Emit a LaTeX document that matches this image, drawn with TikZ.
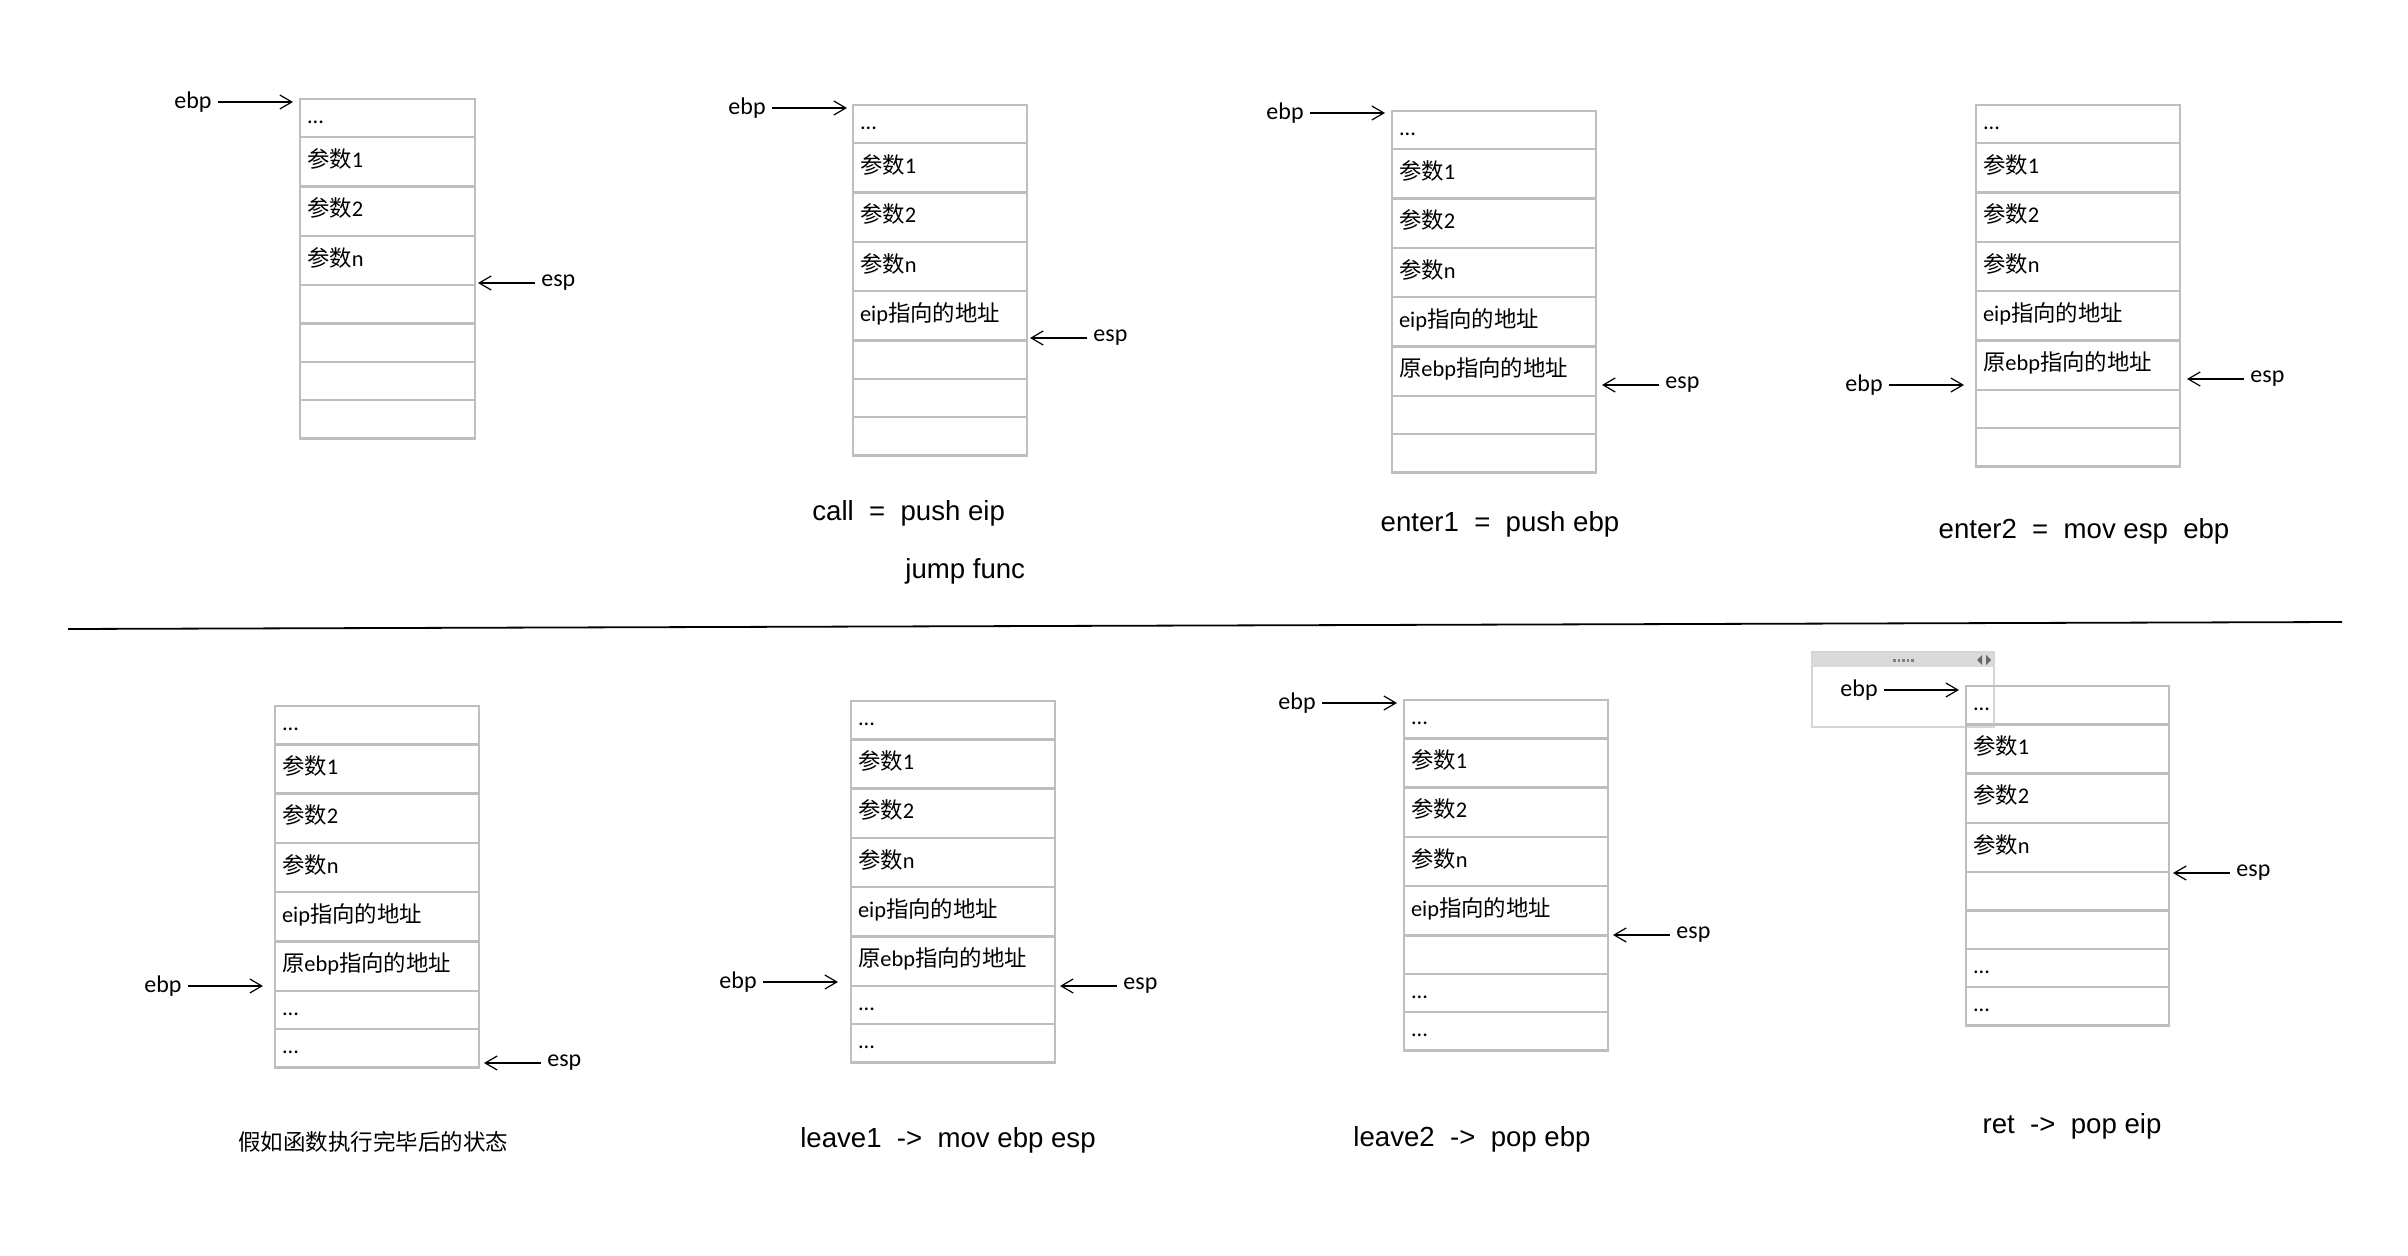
\documentclass[tikz,border=0pt]{standalone}
\usepackage{fontspec}
\setmainfont{Carlito}
\newfontfamily\capfont{Liberation Sans}
\newfontfamily\cjkfont{Noto Sans CJK SC}
\usetikzlibrary{positioning,arrows.meta}
\definecolor{cellgray}{RGB}{190,190,190}
\definecolor{bargray}{RGB}{218,218,218}
\newcommand{\zh}[1]{{\cjkfont #1}}
\newcommand{\moredots}{...}
% one stack of cells, top left corner at #2
\newcommand{\memstack}[4]{%
  \foreach \txt/\kind [count=\i, remember=\i as \j (initially 0)] in {#4}{
    \ifnum\i=1
      \node[cell=#3, \kind, anchor=north west] (#1-\i) at #2 {\txt};
    \else
      \node[cell=#3, \kind, below=0pt of #1-\j] (#1-\i) {\txt};
    \fi
  }%
}
\tikzset{
  cell/.style={draw=cellgray, line width=1.2pt, outer sep=0pt, inner xsep=3.5pt, inner ysep=0pt,
    align=left, text width=#1, text height=0.75em, text depth=0.2em, font=\fontsize{11.2}{13}\selectfont},
  tallrow/.style={minimum height=24.65pt},
  lowrow/.style={minimum height=19.15pt},
  reg/.style={inner sep=3pt, font=\fontsize{12}{14}\selectfont},
  ptr/.style={-{Straight Barb[length=6pt,width=7pt]}, line width=0.6pt},
  opcap/.style={inner sep=0pt, font=\capfont\fontsize{13.8}{16}\selectfont},
}
\begin{document}
\begin{tikzpicture}[x=0.5pt, y=-0.5pt]
\useasboundingbox (0,0) rectangle (2408,1256);

% ---- top row
\memstack{s1}{(300,99)}{80.5pt}{\moredots/lowrow, \zh{参数}1/tallrow, \zh{参数}2/tallrow, \zh{参数}n/tallrow,
  /lowrow, /lowrow, /lowrow, /lowrow}
\coordinate (b1) at (293,102);
\coordinate (e1) at (478,283);
\node[reg, left=37.5pt of b1] (ebp1) {ebp};
\node[reg, right=28.5pt of e1] (esp1) {esp};
\draw[ptr] (ebp1) -- (b1);
\draw[ptr] (esp1) -- (e1);

\memstack{s2}{(853,105)}{80pt}{\moredots/lowrow, \zh{参数}1/tallrow, \zh{参数}2/tallrow, \zh{参数}n/tallrow,
  eip\zh{指向的地址}/tallrow, /lowrow, /lowrow, /lowrow}
\coordinate (b2) at (847,108);
\coordinate (e2) at (1030,338);
\node[reg, left=37.5pt of b2] (ebp2) {ebp};
\node[reg, right=28.5pt of e2] (esp2) {esp};
\draw[ptr] (ebp2) -- (b2);
\draw[ptr] (esp2) -- (e2);
\node[opcap, anchor=west] (cap2) at (812,513) {call~~=~~push eip};
\node[opcap, anchor=west] (cap2b) at (905,571) {jump func};

\memstack{s3}{(1392,111)}{95pt}{\moredots/lowrow, \zh{参数}1/tallrow, \zh{参数}2/tallrow, \zh{参数}n/tallrow,
  eip\zh{指向的地址}/tallrow, \zh{原}ebp\zh{指向的地址}/tallrow, /lowrow, /lowrow}
\coordinate (b3) at (1385,113);
\coordinate (e3) at (1602,385);
\node[reg, left=37.5pt of b3] (ebp3) {ebp};
\node[reg, right=28.5pt of e3] (esp3) {esp};
\draw[ptr] (ebp3) -- (b3);
\draw[ptr] (esp3) -- (e3);
\node[opcap] (cap3) at (1500,524) {enter1~~=~~push ebp};

\memstack{s4}{(1976,105)}{95pt}{\moredots/lowrow, \zh{参数}1/tallrow, \zh{参数}2/tallrow, \zh{参数}n/tallrow,
  eip\zh{指向的地址}/tallrow, \zh{原}ebp\zh{指向的地址}/tallrow, /lowrow, /lowrow}
\coordinate (b4) at (1964,385);
\coordinate (e4) at (2187,379);
\node[reg, left=37.5pt of b4] (ebp4) {ebp};
\node[reg, right=28.5pt of e4] (esp4) {esp};
\draw[ptr] (ebp4) -- (b4);
\draw[ptr] (esp4) -- (e4);
\node[opcap] (cap4) at (2084,531) {enter2~~=~~mov esp~~ebp};

% ---- separator
\coordinate (sepL) at (68,629);
\coordinate (sepR) at (2342,622);
\draw[line width=0.9pt] (sepL) -- (sepR);

% ---- bottom row
\memstack{s5}{(275,706)}{95pt}{\moredots/lowrow, \zh{参数}1/tallrow, \zh{参数}2/tallrow, \zh{参数}n/tallrow,
  eip\zh{指向的地址}/tallrow, \zh{原}ebp\zh{指向的地址}/tallrow, \moredots/lowrow, \moredots/lowrow}
\coordinate (b5) at (263,986);
\coordinate (e5) at (484,1063);
\node[reg, left=37.5pt of b5] (ebp5) {ebp};
\node[reg, right=28.5pt of e5] (esp5) {esp};
\draw[ptr] (ebp5) -- (b5);
\draw[ptr] (esp5) -- (e5);
\node[inner sep=0pt, font=\cjkfont\fontsize{11.25}{14}\selectfont] (cap5) at (373,1142) {假如函数执行完毕后的状态};

\memstack{s6}{(851,701)}{95pt}{\moredots/lowrow, \zh{参数}1/tallrow, \zh{参数}2/tallrow, \zh{参数}n/tallrow,
  eip\zh{指向的地址}/tallrow, \zh{原}ebp\zh{指向的地址}/tallrow, \moredots/lowrow, \moredots/lowrow}
\coordinate (b6) at (838,982);
\coordinate (e6) at (1060,986);
\node[reg, left=37.5pt of b6] (ebp6) {ebp};
\node[reg, right=28.5pt of e6] (esp6) {esp};
\draw[ptr] (ebp6) -- (b6);
\draw[ptr] (esp6) -- (e6);
\node[opcap] (cap6) at (948,1140) {leave1~~->~~mov ebp esp};

\memstack{s7}{(1404,700)}{95pt}{\moredots/lowrow, \zh{参数}1/tallrow, \zh{参数}2/tallrow, \zh{参数}n/tallrow,
  eip\zh{指向的地址}/tallrow, /lowrow, \moredots/lowrow, \moredots/lowrow}
\coordinate (b7) at (1397,703);
\coordinate (e7) at (1613,935);
\node[reg, left=37.5pt of b7] (ebp7) {ebp};
\node[reg, right=28.5pt of e7] (esp7) {esp};
\draw[ptr] (ebp7) -- (b7);
\draw[ptr] (esp7) -- (e7);
\node[opcap] (cap7) at (1472,1139) {leave2~~->~~pop ebp};

% small window over the last stack
\fill[bargray] (1812,652) rectangle (1994,667);
\draw[draw=black!16, line width=1pt] (1812,652) rectangle (1994,727);
\foreach \k in {0,1,2,3,4}
  \fill[black!50] (1893+\k*4.5,659) rectangle ++(2.5,2.5);
\fill[black!60] (1982,655) -- (1977,660) -- (1982,665) -- cycle;
\fill[black!60] (1986,655) -- (1991,660) -- (1986,665) -- cycle;

\memstack{s8}{(1966,686)}{94.5pt}{\moredots/lowrow, \zh{参数}1/tallrow, \zh{参数}2/tallrow, \zh{参数}n/tallrow,
  /lowrow, /lowrow, \moredots/lowrow, \moredots/lowrow}
\coordinate (b8) at (1959,690);
\coordinate (e8) at (2173,873);
\node[reg, left=37.5pt of b8] (ebp8) {ebp};
\node[reg, right=28.5pt of e8] (esp8) {esp};
\draw[ptr] (ebp8) -- (b8);
\draw[ptr] (esp8) -- (e8);
\node[opcap] (cap8) at (2072,1126) {ret~~->~~pop eip};

\end{tikzpicture}
\end{document}
